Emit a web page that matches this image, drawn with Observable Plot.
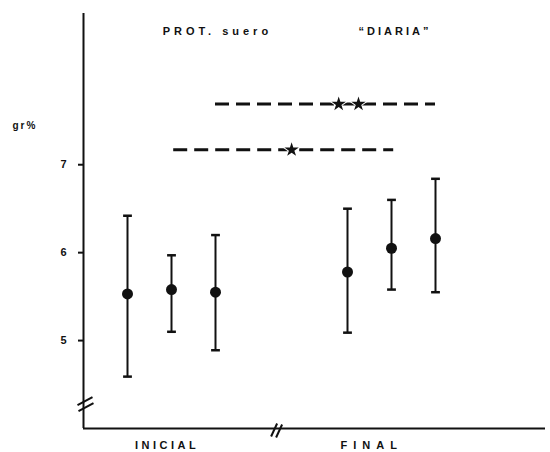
<!DOCTYPE html>
<html>
<head>
<meta charset="utf-8">
<script src="https://cdn.jsdelivr.net/npm/d3@7"></script>
<script src="https://cdn.jsdelivr.net/npm/@observablehq/plot@0.6"></script>
<style>
  html, body { margin: 0; padding: 0; background: #fff; }
</style>
</head>
<body>
<div id="chart"></div>
<script>
// Serum protein (gr%), initial vs final, mean ± range per group
const xPos   = [1, 2, 3, 6, 7, 8];
const means  = [5.53, 5.58, 5.55, 5.78, 6.05, 6.16];
const highs  = [6.42, 5.97, 6.20, 6.50, 6.60, 6.84];
const lows   = [4.59, 5.10, 4.89, 5.09, 5.58, 5.55];

const yTicks = [5, 6, 7];

const groupLabels  = ["INICIAL", "FINAL"];
const groupCenters = [1.9, 6.55];

// significance brackets (dashed) and their stars
const sigFrom  = [3, 2.05];
const sigTo    = [8, 7.05];
const sigLevel = [7.69, 7.17];
const starX    = [5.8, 6.25, 4.73];
const starY    = [7.69, 7.69, 7.17];

// axis break positions
const yBreak = 4.3;
const xBreak = 4.4;

const xDomain = [0, 10.5];
const yDomain = [4, 8.72];
const W = 550, H = 452;
const M = {left: 83, right: 5, top: 13, bottom: 24};

const bars = xPos.map((x, i) => ({x, mean: means[i], hi: highs[i], lo: lows[i]}));
const sig = sigFrom.map((f, i) => ({from: f, to: sigTo[i], y: sigLevel[i]}));
const stars = starX.map((x, i) => ({x, y: starY[i]}));
const groups = groupLabels.map((t, i) => ({t, x: groupCenters[i]}));

// data units per pixel, so the break slashes keep a fixed pixel size
const ux = (xDomain[1] - xDomain[0]) / (W - M.left - M.right);
const uy = (yDomain[1] - yDomain[0]) / (H - M.top - M.bottom);
const slash = (x0, y0, pts) => pts.map(([a, b, c, d]) => ({
  x1: x0 + a * ux, y1: y0 - b * uy, x2: x0 + c * ux, y2: y0 - d * uy
}));
const yBreakStrokes = slash(0, yBreak, [[-6, 3, 9, -5], [-5, 9, 10, 1]]);
const xBreakStrokes = slash(xBreak, yDomain[0], [[-6, 8, 0, -5], [-1, 9, 5, -4]]);

const capHalf = 0.1;
const ink = "#111";

const chart = Plot.plot({
  width: W,
  height: H,
  marginLeft: M.left,
  marginRight: M.right,
  marginTop: M.top,
  marginBottom: M.bottom,
  x: {domain: xDomain, axis: null},
  y: {domain: yDomain, axis: null},
  style: {fontFamily: "'Liberation Sans', Arial, sans-serif", background: "#fff", color: ink},
  marks: [
    // axes
    Plot.ruleX([0], {y1: yDomain[0], y2: yDomain[1], stroke: ink, strokeWidth: 2}),
    Plot.ruleY([yDomain[0]], {x1: xDomain[0], x2: xDomain[1], stroke: ink, strokeWidth: 2}),
    Plot.axisY(yTicks, {tickSize: 5, tickPadding: 12, fontSize: 11, fontWeight: "bold", strokeWidth: 2, stroke: ink, fill: ink, tickFormat: d => String(d)}),
    Plot.text(["gr%"], {x: 0, y: 7.44, dx: -71, textAnchor: "start", fontSize: 10, fontWeight: "bold", fill: ink, text: d => d}),

    // axis breaks
    Plot.link(yBreakStrokes, {x1: "x1", y1: "y1", x2: "x2", y2: "y2", stroke: ink, strokeWidth: 2}),
    Plot.link(xBreakStrokes, {x1: "x1", y1: "y1", x2: "x2", y2: "y2", stroke: ink, strokeWidth: 2}),

    // title
    Plot.text(["PROT. suero"], {x: 1.8, y: 8.52, textAnchor: "start", fontSize: 11, fontWeight: "bold", fill: ink, text: d => d}),
    Plot.text(["\u201CDIARIA\u201D"], {x: 6.25, y: 8.52, textAnchor: "start", fontSize: 11, fontWeight: "bold", fill: ink, text: d => d}),

    // group labels under the x axis
    Plot.text(groups, {x: "x", y: yDomain[0], dy: 17, text: "t", fontSize: 11, fontWeight: "bold", fill: ink}),

    // significance brackets
    Plot.ruleY(sig, {y: "y", x1: "from", x2: "to", stroke: ink, strokeWidth: 3, strokeDasharray: "14,7"}),
    Plot.dot(stars, {x: "x", y: "y", symbol: "star", r: 4.5, fill: ink, stroke: "#fff", strokeWidth: 2, paintOrder: "stroke"}),

    // range bars with caps
    Plot.ruleX(bars, {x: "x", y1: "lo", y2: "hi", stroke: ink, strokeWidth: 2}),
    Plot.link(bars, {x1: d => d.x - capHalf, x2: d => d.x + capHalf, y1: "hi", y2: "hi", stroke: ink, strokeWidth: 2.5}),
    Plot.link(bars, {x1: d => d.x - capHalf, x2: d => d.x + capHalf, y1: "lo", y2: "lo", stroke: ink, strokeWidth: 2.5}),
    Plot.dot(bars, {x: "x", y: "mean", r: 5.5, fill: ink})
  ]
});

// widen the lettering of the typed labels
const spacing = {"PROT. suero": 4, "\u201CDIARIA\u201D": 3, "INICIAL": 3.5, "FINAL": 6, "gr%": 2};
d3.select(chart).selectAll("text").each(function () {
  const s = spacing[this.textContent];
  if (s != null) this.setAttribute("letter-spacing", s);
});

document.getElementById("chart").appendChild(chart);
</script>
</body>
</html>
